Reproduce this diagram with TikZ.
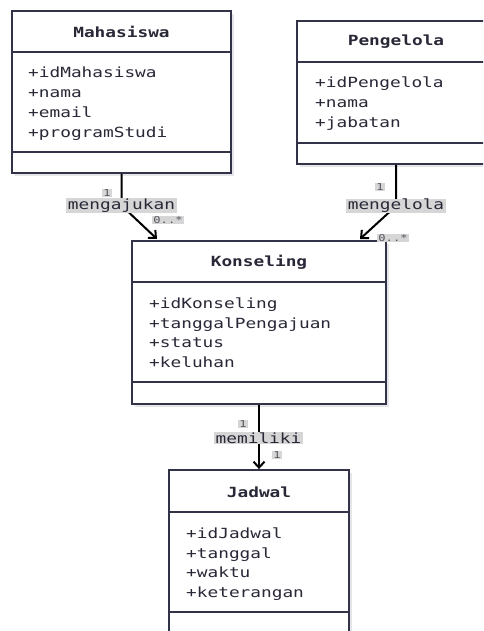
\documentclass[tikz,border=0pt]{standalone}
\usepackage{fontspec}
\usetikzlibrary{arrows.meta,shadows}
\newfontfamily\umlfont[FakeStretch=1.27]{DejaVu Sans Mono}
\definecolor{umlline}{RGB}{50,50,72}
\definecolor{umltext}{RGB}{40,40,55}
\definecolor{lblbg}{RGB}{214,214,214}
\definecolor{multtext}{RGB}{85,85,95}
\definecolor{shade}{RGB}{230,230,234}
\tikzset{
  classbox/.style={draw=umlline, line width=1.8pt, fill=white, inner sep=0pt,
    drop shadow={shadow xshift=3pt, shadow yshift=-3pt, fill=shade, opacity=1}},
  divider/.style={draw=umlline, line width=1.8pt},
  classtitle/.style={font=\umlfont\bfseries\fontsize{14}{16}\selectfont, text=umltext, inner sep=0pt},
  attr/.style={font=\umlfont\fontsize{14}{16}\selectfont, text=umltext, anchor=base west, inner sep=0pt},
  assoc/.style={draw=black, line width=2pt},
  opentip/.style={-{Straight Barb[length=6pt, width=11pt, line width=2pt]}},
  relname/.style={font=\umlfont\fontsize{14}{16}\selectfont, fill=lblbg, text=umltext,
    inner xsep=1.5pt, inner ysep=0.3pt},
  mult/.style={font=\umlfont\fontsize{9.5}{11}\selectfont, fill=lblbg, text=multtext,
    inner xsep=1pt, inner ysep=0.3pt}
}
\begin{document}
\begin{tikzpicture}[x=1pt, y=-1pt]
\path[use as bounding box] (0,0) rectangle (483,631);
\fill[white] (0,0) rectangle (483,631);
\clip (0,0) rectangle (483,631);

% ---------- Mahasiswa ----------
\node[classbox, minimum width=219pt, minimum height=162pt] (mah) at (121.5,92) {};
\draw[divider] (mah.west |- 0,52) -- (mah.east |- 0,52);
\draw[divider] (mah.west |- 0,152) -- (mah.east |- 0,152);
\node[classtitle] (mahT) at (121.5,32) {Mahasiswa};
\node[attr] (mah1) at (28,78) {+idMahasiswa};
\node[attr] (mah2) at (28,97.7) {+nama};
\node[attr] (mah3) at (28,117.4) {+email};
\node[attr] (mah4) at (28,137.1) {+programStudi};

% ---------- Pengelola ----------
\node[classbox, minimum width=198pt, minimum height=143pt] (pen) at (396,92.5) {};
\draw[divider] (pen.west |- 0,62) -- (pen.east |- 0,62);
\draw[divider] (pen.west |- 0,143) -- (pen.east |- 0,143);
\node[classtitle] (penT) at (396,42) {Pengelola};
\node[attr] (pen1) at (315,88) {+idPengelola};
\node[attr] (pen2) at (315,107.7) {+nama};
\node[attr] (pen3) at (315,127.4) {+jabatan};

% ---------- Konseling ----------
\node[classbox, minimum width=254pt, minimum height=163pt] (kon) at (259,322.5) {};
\draw[divider] (kon.west |- 0,282) -- (kon.east |- 0,282);
\draw[divider] (kon.west |- 0,382) -- (kon.east |- 0,382);
\node[classtitle] (konT) at (259,262) {Konseling};
\node[attr] (kon1) at (149,308.5) {+idKonseling};
\node[attr] (kon2) at (149,328.2) {+tanggalPengajuan};
\node[attr] (kon3) at (149,347.9) {+status};
\node[attr] (kon4) at (149,367.6) {+keluhan};

% ---------- Jadwal ----------
\node[classbox, minimum width=180pt, minimum height=164pt] (jad) at (259,552) {};
\draw[divider] (jad.west |- 0,512) -- (jad.east |- 0,512);
\draw[divider] (jad.west |- 0,612) -- (jad.east |- 0,612);
\node[classtitle] (jadT) at (259,492) {Jadwal};
\node[attr] (jad1) at (186,538.5) {+idJadwal};
\node[attr] (jad2) at (186,558.2) {+tanggal};
\node[attr] (jad3) at (186,577.9) {+waktu};
\node[attr] (jad4) at (186,597.6) {+keterangan};

% ---------- associations ----------
\coordinate (ajuMid) at (121.5,205.5);
\coordinate (ajuEnd) at (157,239);
\coordinate (kelMid) at (396,206);
\coordinate (kelEnd) at (360,239);

\draw[assoc, opentip] (mah.south) -- (ajuMid) -- (ajuEnd);
\draw[assoc, opentip] (pen.south -| kelMid) -- (kelMid) -- (kelEnd);
\draw[assoc, opentip] (kon.south) -- (jad.north);

\node[relname] (ajuLbl) at (ajuMid) {mengajukan};
\node[relname] (kelLbl) at (kelMid) {mengelola};
\node[relname] (milLbl) at (258.5,438) {memiliki};

\node[mult] (m1) at (107,193) {1};
\node[mult] (m2) at (168,220) {0..*};
\node[mult] (m3) at (380,187) {1};
\node[mult] (m4) at (393,238) {0..*};
\node[mult] (m5) at (243,424) {1};
\node[mult] (m6) at (277,455) {1};
\end{tikzpicture}
\end{document}
